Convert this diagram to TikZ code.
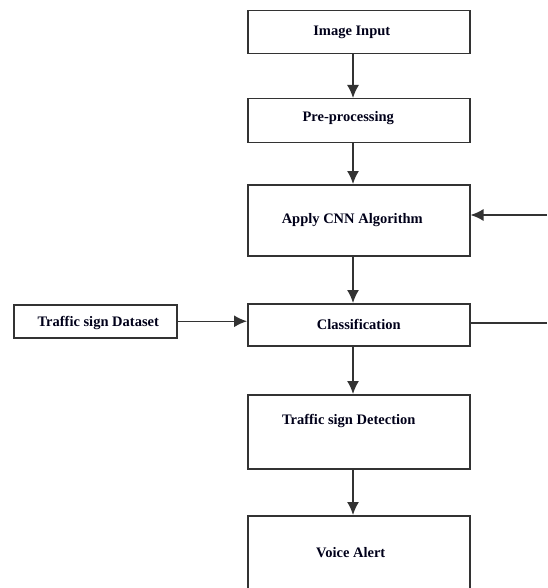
\documentclass[tikz,border=0pt]{standalone}
\usepackage{fontspec}
\setmainfont{Liberation Serif}
\usetikzlibrary{arrows.meta}
\begin{document}
\begin{tikzpicture}[x=1pt,y=-1pt,
  box/.style={draw=black!80, line width=1.5pt, inner sep=0pt, font=\bfseries\fontsize{14.5}{16}\selectfont,
    text=black!90!blue, anchor=north west},
  arr/.style={draw=black!80, line width=1.5pt, -{Latex[length=13pt,width=12pt]}},
  ln/.style={draw=black!80, line width=1.5pt}]
\useasboundingbox (0,0) rectangle (547,588);
\clip (0,0) rectangle (547,588);
\node[box, minimum width=222pt, minimum height=43pt] (inp) at (247,10) {Image Input\kern14pt};
\node[box, minimum width=222pt, text height=23pt, text depth=21pt] (pre) at (247,98) {Pre-processing\kern21pt};
\node[box, minimum width=222pt, minimum height=71pt] (cnn) at (247,184) {Apply CNN Algorithm\kern13pt};
\node[box, minimum width=222pt, minimum height=42pt] (cls) at (247,303) {Classification};
\node[box, minimum width=163pt, text height=22pt, text depth=11pt] (ds) at (13,304) {\kern6pt Traffic sign Dataset};
\node[box, minimum width=222pt, text height=30pt, text depth=44pt] (det) at (247,394) {Traffic sign Detection\kern20pt};
\node[box, minimum width=222pt, minimum height=74pt] (va) at (247,515) {Voice Alert\kern16pt};
\coordinate (rin) at (547,215);
\coordinate (rout) at (547,323);
\draw[arr] (inp.south -| 353,0) -- (pre.north -| 353,0);
\draw[arr] (pre.south -| 353,0) -- (cnn.north -| 353,0);
\draw[arr] (cnn.south -| 353,0) -- (cls.north -| 353,0);
\draw[arr] (cls.south -| 353,0) -- (det.north -| 353,0);
\draw[arr] (det.south -| 353,0) -- (va.north -| 353,0);
\draw[arr] (ds.east) -- (ds.east -| cls.west);
\draw[arr] (rin) -- (rin -| cnn.east);
\draw[ln] (rout -| cls.east) -- (rout);
\end{tikzpicture}
\end{document}
